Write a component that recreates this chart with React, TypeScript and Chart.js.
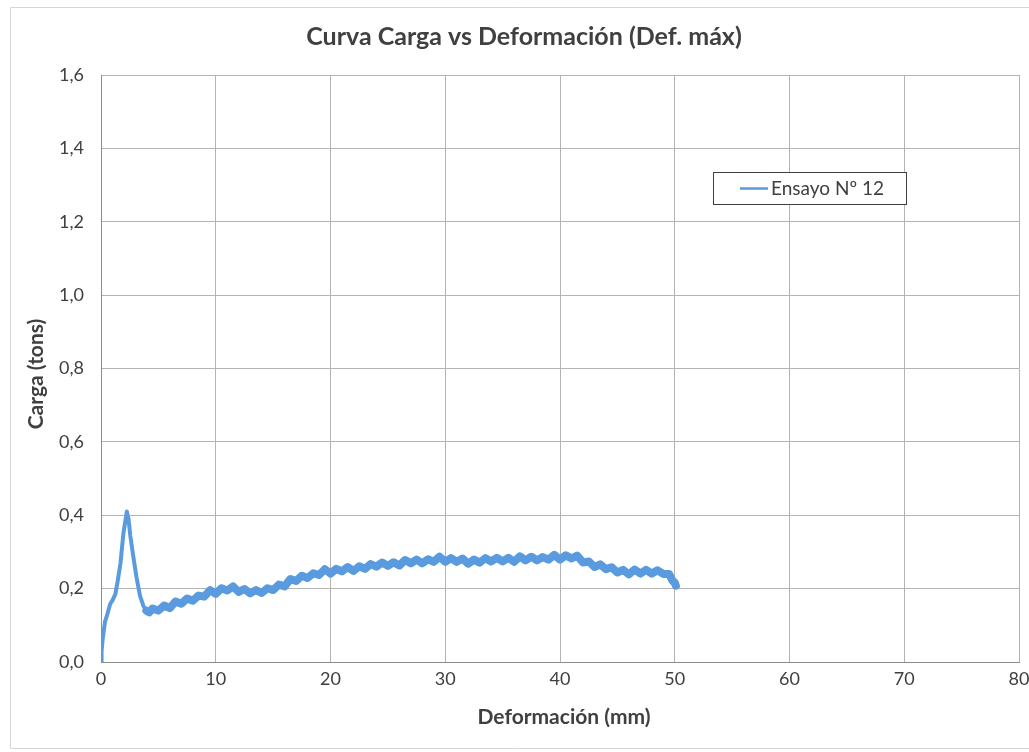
import React, { useEffect, useRef } from "react";
import { Chart, registerables } from "chart.js";

Chart.register(...registerables);

const chartTitle = "Curva Carga vs Deformación (Def. máx)";
const xAxisTitle = "Deformación (mm)";
const yAxisTitle = "Carga (tons)";
const seriesName = "Ensayo Nº 12";

const xMin = 0;
const xMax = 80;
const xStep = 10;
const yMin = 0;
const yMax = 1.6;
const yStep = 0.2;

// Deformación (mm)
const deformacion = [
  0, 0.05, 0.15, 0.35, 0.55, 0.8, 1.0, 1.25, 1.45, 1.7, 1.95, 2.1, 2.25, 2.4, 2.55, 2.85, 3.1, 3.4, 3.7, 3.95, 4.2,
  4.5, 5.0, 5.5, 6.0, 6.5, 7.0, 7.5, 8.0, 8.5, 9.0, 9.5, 10.0, 10.5, 11.0, 11.5, 12.0, 12.5, 13.0, 13.5, 14.0, 14.5,
  15.0, 15.5, 16.0, 16.5, 17.0, 17.5, 18.0, 18.5, 19.0, 19.5, 20.0, 20.5, 21.0, 21.5, 22.0, 22.5, 23.0, 23.5, 24.0,
  24.5, 25.0, 25.5, 26.0, 26.5, 27.0, 27.5, 28.0, 28.5, 29.0, 29.5, 30.0, 30.5, 31.0, 31.5, 32.0, 32.5, 33.0, 33.5,
  34.0, 34.5, 35.0, 35.5, 36.0, 36.5, 37.0, 37.5, 38.0, 38.5, 39.0, 39.5, 40.0, 40.5, 41.0, 41.5, 42.0, 42.5, 43.0,
  43.5, 44.0, 44.5, 45.0, 45.5, 46.0, 46.5, 47.0, 47.5, 48.0, 48.5, 49.0, 49.5, 49.8, 50.0, 50.1,
];

// Carga (tons)
const carga = [
  0, 0.03, 0.064, 0.11, 0.13, 0.158, 0.168, 0.185, 0.22, 0.27, 0.35, 0.38, 0.41, 0.39, 0.345, 0.28, 0.23, 0.18, 0.152, 0.14, 0.135,
  0.146, 0.14, 0.154, 0.147, 0.165, 0.159, 0.173, 0.167, 0.181, 0.178, 0.196, 0.186, 0.201, 0.195, 0.206, 0.191, 0.199, 0.187, 0.196, 0.188, 0.201,
  0.196, 0.211, 0.206, 0.226, 0.221, 0.235, 0.229, 0.242, 0.237, 0.253, 0.241, 0.254, 0.247, 0.259, 0.248, 0.261, 0.254, 0.267, 0.26,
  0.271, 0.262, 0.272, 0.263, 0.278, 0.269, 0.279, 0.269, 0.28, 0.273, 0.287, 0.273, 0.283, 0.273, 0.282, 0.268, 0.279, 0.271, 0.283,
  0.274, 0.284, 0.274, 0.284, 0.273, 0.288, 0.277, 0.287, 0.277, 0.286, 0.279, 0.292, 0.279, 0.291, 0.282, 0.29, 0.271, 0.274, 0.259,
  0.266, 0.253, 0.258, 0.244, 0.251, 0.239, 0.252, 0.241, 0.251, 0.241, 0.25, 0.24, 0.24, 0.222, 0.216, 0.208,
];

const FONT = "Lato, 'Open Sans', sans-serif";
const LINE_COLOR = "#5a9be0";
const TEXT_COLOR = "#404040";

const decorPlugin = {
  id: "decor",
  beforeDraw(chart: any) {
    const ctx = chart.ctx;
    ctx.save();
    ctx.fillStyle = "#ffffff";
    ctx.fillRect(0, 0, chart.width, chart.height);
    ctx.strokeStyle = "#d6d6d6";
    ctx.lineWidth = 1;
    ctx.beginPath();
    ctx.moveTo(10.5, 7.5);
    ctx.lineTo(chart.width, 7.5);
    ctx.moveTo(10.5, 7.5);
    ctx.lineTo(10.5, 748.5);
    ctx.lineTo(chart.width, 748.5);
    ctx.stroke();
    ctx.restore();
  },
  afterDraw(chart: any) {
    const ctx = chart.ctx;
    ctx.save();
    ctx.fillStyle = TEXT_COLOR;
    ctx.textAlign = "center";
    ctx.textBaseline = "middle";
    ctx.font = `bold 25px ${FONT}`;
    ctx.fillText(chartTitle, 524, 37);

    ctx.font = `bold 21px ${FONT}`;
    ctx.fillText(xAxisTitle, 564, 717);

    ctx.save();
    ctx.translate(36, 374);
    ctx.rotate(-Math.PI / 2);
    ctx.fillText(yAxisTitle, 0, 0);
    ctx.restore();

    // legend
    ctx.fillStyle = "#ffffff";
    ctx.fillRect(713.5, 172.5, 193, 32);
    ctx.strokeStyle = "#404040";
    ctx.lineWidth = 1;
    ctx.strokeRect(713.5, 172.5, 193, 32);
    ctx.strokeStyle = LINE_COLOR;
    ctx.lineWidth = 2.5;
    ctx.beginPath();
    ctx.moveTo(740, 188.5);
    ctx.lineTo(768, 188.5);
    ctx.stroke();
    ctx.fillStyle = TEXT_COLOR;
    ctx.font = `19px ${FONT}`;
    ctx.textAlign = "left";
    ctx.fillText(seriesName, 771, 189);
    ctx.restore();
  },
};

export default function App() {
  const canvasRef = useRef<HTMLCanvasElement | null>(null);

  useEffect(() => {
    if (!canvasRef.current) return;
    const points = deformacion.map((x, i) => ({ x, y: carga[i] }));
    const chart = new Chart(canvasRef.current, {
      type: "line",
      data: {
        datasets: [
          {
            label: seriesName,
            data: points,
            borderColor: LINE_COLOR,
            backgroundColor: LINE_COLOR,
            borderWidth: 8,
            borderJoinStyle: "round",
            borderCapStyle: "round",
            pointRadius: 0,
            tension: 0,
            fill: false,
            segment: {
              borderWidth: (c: any) => (c.p0.parsed.x < 3.9 ? 4 : 8),
            },
          },
        ],
      },
      options: {
        animation: false,
        responsive: false,
        devicePixelRatio: 1,
        layout: { padding: { top: 75, right: 10, left: 0, bottom: 0 } },
        plugins: {
          legend: { display: false },
          title: { display: false },
          tooltip: { enabled: false },
        },
        scales: {
          x: {
            type: "linear",
            min: xMin,
            max: xMax,
            ticks: {
              stepSize: xStep,
              color: TEXT_COLOR,
              font: { family: FONT, size: 18 },
              padding: 6,
              maxRotation: 0,
            },
            grid: { color: "#b3b3b3", drawTicks: false, lineWidth: 1 },
            border: { color: "#8c8c8c" },
            afterFit: (s: any) => {
              s.height = 90;
              s.paddingRight = 0;
              s.paddingLeft = 0;
            },
          },
          y: {
            type: "linear",
            min: yMin,
            max: yMax,
            ticks: {
              stepSize: yStep,
              color: TEXT_COLOR,
              font: { family: FONT, size: 18 },
              padding: 17,
              callback: (v: any) => Number(v).toFixed(1).replace(".", ","),
            },
            grid: { color: "#b3b3b3", drawTicks: false, lineWidth: 1 },
            border: { color: "#8c8c8c" },
            afterFit: (s: any) => {
              s.width = 101;
              s.paddingTop = 0;
              s.paddingBottom = 0;
            },
          },
        },
      },
      plugins: [decorPlugin],
    });
    return () => chart.destroy();
  }, []);

  return (
    <div style={{ position: "absolute", left: 0, top: 0, width: 1029, height: 752, background: "#fff" }}>
      <canvas ref={canvasRef} width={1029} height={752} style={{ display: "block" }} />
    </div>
  );
}
